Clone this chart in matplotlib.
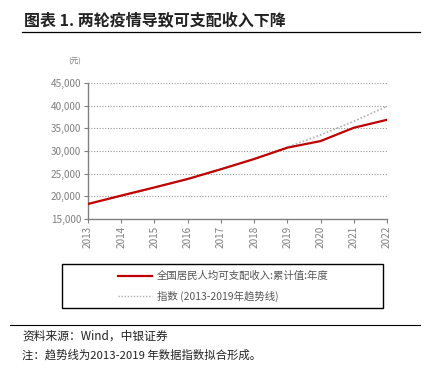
import numpy as np
import matplotlib.pyplot as plt

plt.rcParams['font.family'] = ['Noto Sans CJK SC', 'DejaVu Sans']

years = [2013, 2014, 2015, 2016, 2017, 2018, 2019, 2020, 2021, 2022]
income = [18311, 20167, 21966, 23821, 25974, 28228, 30733, 32189, 35128, 36883]
trend = [18350, 20000, 21850, 23850, 26000, 28300, 30850, 33550, 36550, 39850]
yticks = [15000, 20000, 25000, 30000, 35000, 40000, 45000]

fig = plt.figure(figsize=(4.29, 3.69), dpi=100)
W, H = 429, 369
ax = fig.add_axes([88 / W, 1 - 219 / H, (387 - 88) / W, (219 - 83) / H])

grey = '#808080'
ax.plot(years, trend, color='#b0b0b0', linestyle=(0, (1, 1.2)), linewidth=1.2, zorder=2)
ax.plot(years, income, color='#c00000', linewidth=1.6, zorder=3)

ax.set_xlim(2013, 2022)
ax.set_ylim(15000, 45000)
ax.set_yticks(yticks)
ax.set_yticklabels([f'{v:,}' for v in yticks])
ax.set_xticks(years)
ax.set_xticklabels([str(y) for y in years], rotation=90)
ax.tick_params(colors=grey, labelsize=7.2, length=3, width=0.8, pad=2)
ax.yaxis.grid(True, color='#999999', linestyle=(0, (1, 1.5)), linewidth=0.8)
for s in ['top', 'right']:
    ax.spines[s].set_visible(False)
for s in ['left', 'bottom']:
    ax.spines[s].set_color(grey)
    ax.spines[s].set_linewidth(1.0)

fig.text(68 / W, 1 - 62 / H, '(元)', fontsize=5.5, color=grey, va='center')

# title
fig.text(24 / W, 1 - 21 / H, '图表 1. 两轮疫情导致可支配收入下降', fontsize=11.5,
         fontweight='bold', va='center', color='#222222')
fig.add_artist(plt.Line2D([22 / W, 420 / W], [1 - 32 / H] * 2, color='black', linewidth=0.9))

# legend box
fig.add_artist(plt.Rectangle((62 / W, 1 - 308 / H), (383 - 62) / W, (308 - 264) / H,
                             fill=False, edgecolor='black', linewidth=1.0))
fig.add_artist(plt.Line2D([118 / W, 152 / W], [1 - 276 / H] * 2, color='#c00000', linewidth=1.6))
fig.text(157 / W, 1 - 276 / H, '全国居民人均可支配收入:累计值:年度', fontsize=7.5,
         color='#555555', va='center')
fig.add_artist(plt.Line2D([118 / W, 152 / W], [1 - 296 / H] * 2, color='#b0b0b0',
                          linestyle=(0, (1, 1.2)), linewidth=1.0))
fig.text(157 / W, 1 - 296 / H, '指数 (2013-2019年趋势线)', fontsize=7.5,
         color='#555555', va='center')

# footnotes
fig.add_artist(plt.Line2D([10 / W, 420 / W], [1 - 325 / H] * 2, color='black', linewidth=0.8))
fig.text(22 / W, 1 - 336 / H, '资料来源：Wind，中银证券', fontsize=8.5, style='italic',
         va='center', color='#222222')
fig.text(22 / W, 1 - 355 / H, '注：趋势线为2013-2019 年数据指数拟合形成。', fontsize=8.2,
         style='italic', va='center', color='#222222')

fig.savefig('out.png', dpi=100)
